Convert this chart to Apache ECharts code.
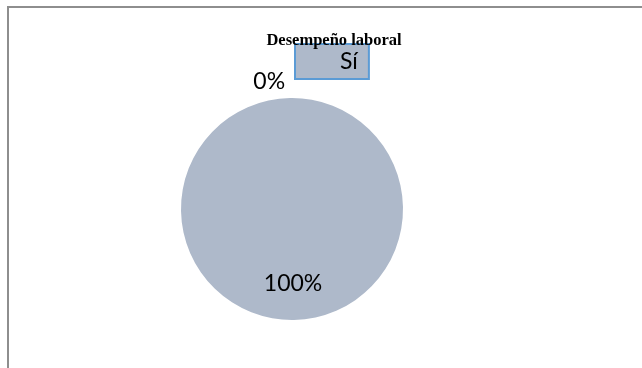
<!DOCTYPE html>
<html>
<head>
<meta charset="utf-8">
<script src="https://cdn.jsdelivr.net/npm/echarts@6/dist/echarts.min.js"></script>
<style>
  html, body { margin: 0; padding: 0; background: #ffffff; }
  #frame {
    position: absolute; left: 7px; top: 6px; width: 700px; height: 400px;
    border-left: 2px solid #8e8e8e; border-top: 2px solid #8e8e8e;
    box-sizing: border-box;
  }
  #chart { position: absolute; left: 0; top: 0; width: 642px; height: 368px; }
</style>
</head>
<body>
<div id="frame"></div>
<div id="chart"></div>
<script>
// Survey answers and their share of responses
const titleText = 'Desempeño laboral';
const categories = ['Sí', 'No'];
const values = [100, 0];
const legendItems = ['Sí'];

const sliceColor = '#aeb9ca';
const labelFont = 'Lato';

const chart = echarts.init(document.getElementById('chart'), null, { renderer: 'canvas' });

const pieData = categories.map((name, i) => {
  const item = { name: name, value: values[i] };
  if (values[i] > 0) {
    // value label sits low inside the filled slice (blank line above pushes it down)
    item.label = { position: 'inside', formatter: '\n{d}%' };
  } else {
    // empty slice: label alone, just above-left of the rim (blank line below lifts it)
    item.label = { position: 'outside', formatter: '{d}%\n' };
    item.labelLine = { show: false, length: 0, length2: 0 };
  }
  return item;
});

chart.setOption({
  animation: false,
  backgroundColor: 'transparent',
  color: [sliceColor, '#c0504d'],
  title: {
    text: titleText,
    left: 329,
    top: 27,
    textAlign: 'center',
    textStyle: { fontFamily: 'Liberation Serif', fontWeight: 'bold', fontSize: 16.5, color: '#000' }
  },
  legend: {
    data: legendItems,
    left: 295,
    top: 44,
    icon: 'none',
    itemWidth: 0,
    itemGap: 0,
    backgroundColor: sliceColor,
    borderColor: '#5b9bd5',
    borderWidth: 2,
    borderRadius: 0,
    padding: [6, 11, 6, 40],
    selectedMode: false,
    textStyle: { fontFamily: labelFont, fontSize: 23, color: '#000' }
  },
  series: [{
    type: 'pie',
    center: [292, 209],
    radius: [0, 111],
    startAngle: 91,
    clockwise: true,
    avoidLabelOverlap: false,
    silent: true,
    data: pieData,
    label: {
      show: true,
      fontFamily: labelFont,
      fontSize: 23,
      lineHeight: 32,
      color: '#000'
    },
    labelLine: { show: false },
    itemStyle: { borderWidth: 0 }
  }]
});
</script>
</body>
</html>
